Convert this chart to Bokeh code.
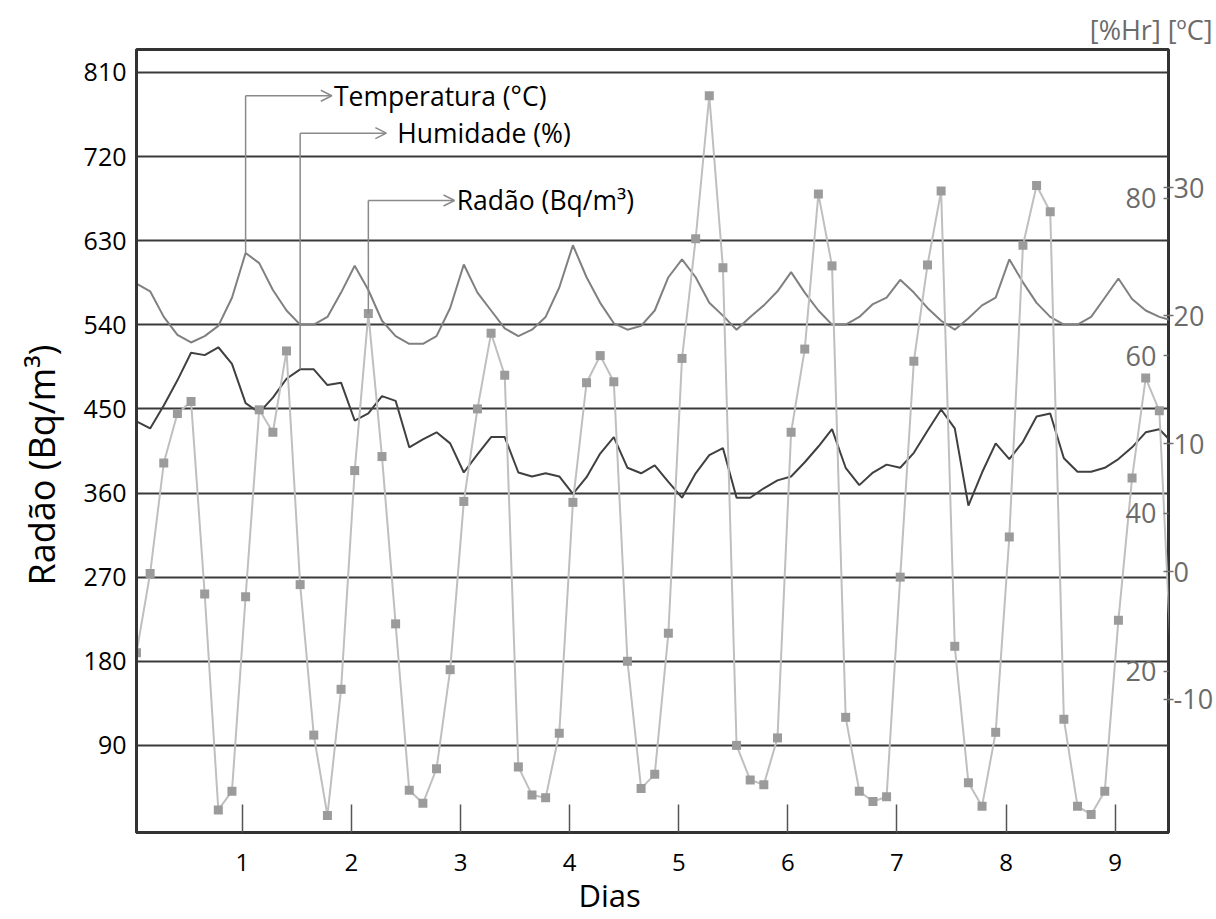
from bokeh.plotting import figure
from bokeh.models import (Range1d, LinearAxis, FixedTicker, Label, Arrow,
                          OpenHead, ColumnDataSource, Title)
from bokeh.embed import file_html
from bokeh.resources import INLINE

# ---------------- data (3-hourly samples) ----------------
hours = list(range(0, 231, 3))          # 77 samples, every 3 h
start_day = 0.03                        # first sample, in days

radon = [189, 274, 392, 445, 458, 252, 21, 41, 249, 449,
         425, 512, 262, 101, 15, 150, 384, 552, 399, 220,
         42, 28, 65, 171, 351, 450, 531, 486, 67, 37,
         34, 103, 350, 478, 507, 479, 180, 44, 59, 210,
         504, 632, 785, 601, 90, 53, 48, 98, 425, 514,
         680, 603, 120, 41, 30, 35, 270, 501, 604, 683,
         196, 50, 25, 104, 313, 625, 689, 661, 118, 25,
         16, 41, 224, 376, 483, 448, 140]

temperature = [22.5, 21.9, 19.9, 18.5, 17.9, 18.4, 19.2, 21.4, 24.9, 24.1,
               22.0, 20.4, 19.3, 19.3, 19.9, 21.8, 23.9, 22.0, 19.6, 18.4,
               17.8, 17.8, 18.4, 20.6, 24.0, 21.8, 20.4, 19.0, 18.4, 18.9,
               19.9, 22.2, 25.5, 23.0, 21.0, 19.4, 18.9, 19.2, 20.4, 23.0,
               24.4, 23.0, 21.0, 20.0, 18.9, 19.9, 20.8, 21.9, 23.4, 21.8,
               20.4, 19.3, 19.3, 19.9, 20.9, 21.4, 22.8, 21.8, 20.6, 19.6,
               18.9, 19.8, 20.8, 21.4, 24.4, 22.6, 21.0, 19.9, 19.3, 19.3,
               19.9, 21.4, 22.9, 21.3, 20.4, 19.9, 19.6]

humidity = [51.7, 50.8, 53.7, 56.9, 60.4, 60.1, 61.1, 59.0, 54.0, 52.8,
            54.7, 57.1, 58.3, 58.3, 56.3, 56.6, 51.8, 52.7, 54.9, 54.3,
            48.4, 49.4, 50.3, 48.9, 45.2, 47.5, 49.7, 49.7, 45.2, 44.7,
            45.1, 44.7, 42.5, 44.6, 47.6, 49.7, 45.8, 45.1, 46.1, 44.0,
            42.0, 45.1, 47.4, 48.3, 42.0, 42.0, 43.2, 44.2, 44.7, 46.5,
            48.5, 50.7, 45.8, 43.6, 45.2, 46.2, 45.8, 47.7, 50.5, 53.2,
            50.8, 41.0, 45.2, 48.9, 46.9, 49.1, 52.3, 52.7, 47.0, 45.3,
            45.3, 45.8, 46.9, 48.4, 50.3, 50.7, 48.9]

day_ticks = [1, 2, 3, 4, 5, 6, 7, 8, 9]
radon_ticks = [90, 180, 270, 360, 450, 540, 630, 720, 810]
temp_ticks = [-10, 0, 10, 20, 30]
hum_ticks = [20, 40, 60, 80]

x = [start_day + h / 24 for h in hours]
src = ColumnDataSource(dict(x=x, radon=radon, temp=temperature, hum=humidity))

FONT = "Open Sans"
X_END = 9.489
Y_LO, Y_HI = -3.2, 834.5

p = figure(width=1216, height=919,
           x_range=Range1d(start_day, X_END), y_range=Range1d(Y_LO, Y_HI),
           output_backend="svg", toolbar_location=None,
           min_border_left=136, min_border_right=48,
           min_border_top=49, min_border_bottom=87,
           background_fill_color="white", border_fill_color="white")
temp_rng = Range1d(-20.4, 40.8)
hum_rng = Range1d(-0.5, 98.9)
p.extra_y_ranges = {"temp": temp_rng, "hum": hum_rng}

p.outline_line_color = "#333333"
p.outline_line_width = 3

# unit header at the top right
p.title.text = "[%Hr] [ºC]"
p.title.align = "right"
p.title.offset = -44
p.title.standoff = 4
p.title.text_font = FONT
p.title.text_font_size = "27px"
p.title.text_font_style = "normal"
p.title.text_color = "#6b6b6b"

# grid
p.xgrid.visible = False
p.ygrid.ticker = FixedTicker(ticks=radon_ticks)
p.ygrid.grid_line_color = "#3a3a3a"
p.ygrid.grid_line_width = 2

# x axis
xa = p.xaxis[0]
xa.ticker = FixedTicker(ticks=day_ticks)
xa.major_label_text_font = FONT
xa.major_label_text_font_size = "24px"
xa.major_label_text_color = "black"
xa.major_label_standoff = 21
xa.major_tick_in = 28
xa.major_tick_out = 0
xa.major_tick_line_color = "#555555"
xa.major_tick_line_width = 1.5
xa.minor_tick_line_color = None
xa.minor_tick_out = 0
xa.axis_line_color = "#333333"
xa.axis_line_width = 3

# left axis
ya = p.yaxis[0]
ya.ticker = FixedTicker(ticks=radon_ticks)
ya.major_label_text_font = FONT
ya.major_label_text_font_size = "25px"
ya.major_label_text_color = "black"
ya.major_label_standoff = 10
ya.major_tick_in = 0
ya.major_tick_out = 0
ya.minor_tick_line_color = None
ya.minor_tick_out = 0
ya.axis_line_color = "#333333"
ya.axis_line_width = 3

# axis titles (placed off-centre like the original)
p.add_layout(Title(text="Radão (Bq/m³)", align="left", offset=247, standoff=25,
                   vertical_align="top",
                   text_font=FONT, text_font_size="36px", text_font_style="normal",
                   text_color="black"), "left")
p.add_layout(Title(text="Dias", align="left", offset=442, standoff=0,
                   vertical_align="top",
                   text_font=FONT, text_font_size="31px", text_font_style="normal",
                   text_color="black"), "below")

# right axes: temperature (labels outside), humidity (labels inside)
ta = LinearAxis(y_range_name="temp", ticker=FixedTicker(ticks=temp_ticks))
ta.major_label_overrides = {t: str(t) for t in temp_ticks}
ta.major_tick_in = 5
ta.major_tick_out = 5
ta.major_tick_line_color = "#707070"
ta.major_tick_line_width = 1.5
ta.minor_tick_line_color = None
ta.minor_tick_out = 0
ta.axis_line_color = None
ta.major_label_standoff = 0
ta.major_label_text_font = FONT
ta.major_label_text_font_size = "27px"
ta.major_label_text_color = "#6b6b6b"
p.add_layout(ta, "right")

ha = LinearAxis(y_range_name="hum", ticker=FixedTicker(ticks=hum_ticks),
                fixed_location=X_END)
ha.major_tick_in = 5
ha.major_tick_out = 5
ha.major_tick_line_color = "#707070"
ha.major_tick_line_width = 1.5
ha.minor_tick_line_color = None
ha.minor_tick_out = 0
ha.axis_line_color = None
ha.major_label_standoff = -48
ha.major_label_text_font = FONT
ha.major_label_text_font_size = "27px"
ha.major_label_text_color = "#6b6b6b"
p.add_layout(ha, "right")

# series
p.line("x", "temp", source=src, y_range_name="temp", line_color="#808080", line_width=2)
p.line("x", "hum", source=src, y_range_name="hum", line_color="#404040", line_width=2)
p.line("x", "radon", source=src, line_color="#bfbfbf", line_width=2)
p.scatter("x", "radon", source=src, marker="square", size=9,
          fill_color="#9b9b9b", line_color=None)


# callouts
def to_left(v, rng):
    return Y_LO + (v - rng.start) / (rng.end - rng.start) * (Y_HI - Y_LO)


ARROW_LEN = 0.79
callouts = [
    ("Temperatura (°C)", 8, to_left(temperature[8], temp_rng), 785, 0.02),
    ("Humidade (%)", 12, to_left(humidity[12], hum_rng), 745, 0.1),
    ("Radão (Bq/m³)", 17, radon[17], 673, 0.02),
]
CONN = "#8a8a8a"
for text, idx, ybot, yrow, gap in callouts:
    xc = x[idx]
    p.add_layout(Arrow(end=None, x_start=xc, y_start=ybot, x_end=xc, y_end=yrow,
                       line_color=CONN, line_width=1.5))
    p.add_layout(Arrow(end=OpenHead(size=11, line_color=CONN, line_width=1.5),
                       x_start=xc, y_start=yrow, x_end=xc + ARROW_LEN, y_end=yrow,
                       line_color=CONN, line_width=1.5))
    p.add_layout(Label(x=xc + ARROW_LEN + gap, y=yrow, text=text,
                       text_baseline="middle", text_font=FONT,
                       text_font_size="26.5px", text_color="black"))

html = file_html(p, INLINE, title="Radão")
with open("out.html", "w") as f:
    f.write(html)
